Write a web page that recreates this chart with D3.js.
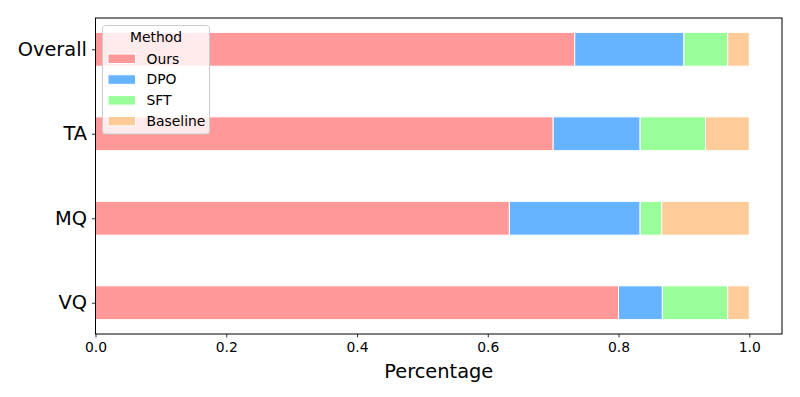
<!DOCTYPE html>
<html>
<head>
<meta charset="utf-8">
<script src="https://cdn.jsdelivr.net/npm/d3@7"></script>
<style>
  body { margin: 0; background: #fff; }
  text { font-family: "DejaVu Sans", sans-serif; }
</style>
</head>
<body>
<div id="chart"></div>
<script>
// categories top to bottom
const categories = ["Overall", "TA", "MQ", "VQ"]
const methods = ["Ours", "DPO", "SFT", "Baseline"]
const colors = ["#ff9999", "#66b3ff", "#99ff99", "#ffcc99"]
// share of each method per category
const ours     = [0.733, 0.700, 0.633, 0.800]
const dpo      = [0.167, 0.133, 0.200, 0.067]
const sft      = [0.067, 0.100, 0.033, 0.100]
const baseline = [0.033, 0.067, 0.134, 0.033]
const xTicks = [0, 0.2, 0.4, 0.6, 0.8, 1.0]

const W = 800, H = 397
const M = {LEFT: 95.5, RIGHT: 18, TOP: 18, BOTTOM: 63}

const svg = d3.select("#chart").append("svg")
    .attr("width", W)
    .attr("height", H)

const x = d3.scaleLinear()
    .domain([0, 1.05])
    .range([M.LEFT, W - M.RIGHT])

// VQ at the bottom (index 0), Overall on top
const n = categories.length
const y = d3.scaleLinear()
    .domain([-0.37, n - 1 + 0.37])
    .range([H - M.BOTTOM, M.TOP])
const yPos = i => y(n - 1 - i)
const barH = Math.abs(y(0.2) - y(-0.2))

const series = [ours, dpo, sft, baseline]
const rows = categories.map((c, i) => {
    let acc = 0
    return series.map((s, k) => {
        const seg = {cat: i, k: k, x0: acc, x1: acc + s[i]}
        acc += s[i]
        return seg
    })
}).flat()

svg.append("g").selectAll("rect")
    .data(rows).enter()
    .append("rect")
    .attr("x", d => x(d.x0))
    .attr("width", d => x(d.x1) - x(d.x0))
    .attr("y", d => yPos(d.cat) - barH / 2)
    .attr("height", barH)
    .attr("fill", d => colors[d.k])
    .attr("stroke", "#fff")
    .attr("stroke-width", 1)

// axes
const xAxis = svg.append("g")
    .attr("transform", `translate(0,${H - M.BOTTOM})`)
    .call(d3.axisBottom(x).tickValues(xTicks).tickFormat(d3.format(".1f")).tickSizeOuter(0).tickSize(3.5).tickPadding(4.5))
xAxis.selectAll("text").attr("font-size", "13.9px").attr("fill", "#000")
xAxis.select(".domain").remove()

const yAxis = svg.append("g")
    .attr("transform", `translate(${M.LEFT},0)`)
    .call(d3.axisLeft(y).tickValues(d3.range(n)).tickFormat(i => categories[n - 1 - i]).tickSizeOuter(0).tickSize(3.5).tickPadding(5))
yAxis.selectAll("text").attr("font-size", "19.4px").attr("fill", "#000")
yAxis.select(".domain").remove()
svg.selectAll(".tick line").attr("stroke", "#000").attr("stroke-width", 0.8)

svg.append("rect")
    .attr("x", M.LEFT)
    .attr("y", M.TOP)
    .attr("width", W - M.RIGHT - M.LEFT)
    .attr("height", H - M.BOTTOM - M.TOP)
    .attr("fill", "none")
    .attr("stroke", "#000")
    .attr("stroke-width", 1)

svg.append("text")
    .attr("x", (M.LEFT + W - M.RIGHT) / 2)
    .attr("y", 378)
    .attr("text-anchor", "middle")
    .attr("font-size", "19.4px")
    .text("Percentage")

// legend
const lg = svg.append("g").attr("transform", "translate(102.5,25.5)")
lg.append("rect")
    .attr("width", 107)
    .attr("height", 108.5)
    .attr("rx", 3)
    .attr("fill", "rgba(255,255,255,0.8)")
    .attr("stroke", "#cccccc")
    .attr("stroke-width", 1)
lg.append("text")
    .attr("x", 53.5)
    .attr("y", 16.5)
    .attr("text-anchor", "middle")
    .attr("font-size", "13.9px")
    .text("Method")
const item = lg.selectAll(".item")
    .data(methods).enter()
    .append("g")
    .attr("transform", (d, i) => `translate(0,${33 + i * 20.8})`)
item.append("rect")
    .attr("x", 5.5)
    .attr("y", -4.5)
    .attr("width", 27.5)
    .attr("height", 9.5)
    .attr("fill", (d, i) => colors[i])
    .attr("stroke", "#fff")
item.append("text")
    .attr("x", 44)
    .attr("y", 5)
    .attr("font-size", "13.9px")
    .text(d => d)
</script>
</body>
</html>
